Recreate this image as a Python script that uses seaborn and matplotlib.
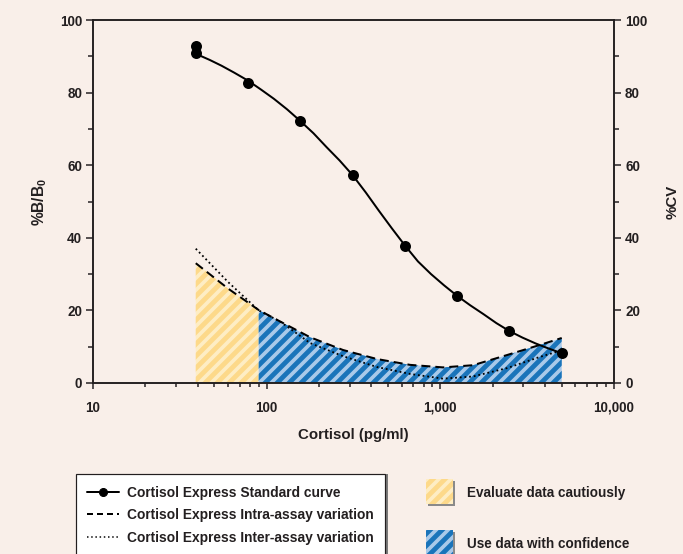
import numpy as np
import pandas as pd
import matplotlib
matplotlib.use("Agg")
import matplotlib.pyplot as plt
import matplotlib.ticker as mticker
from matplotlib.lines import Line2D
from matplotlib.patches import Rectangle
import seaborn as sns

# --- data --------------------------------------------------------------------
# standard points (pg/ml -> %B/B0), the lowest standard was run twice
std_conc = [39.06, 39.06, 78.125, 156.25, 312.5, 625, 1250, 2500, 5000]
std_bb0 = [92.8, 90.9, 82.6, 72.2, 57.3, 37.7, 24.0, 14.3, 8.3]

# fitted standard curve, read at several concentrations
fit_conc = [39.06, 47, 55, 65, 78.1, 93, 110, 131, 156, 186, 221, 263, 312, 372,
            442, 526, 625, 743, 884, 1051, 1250, 1487, 1768, 2102, 2500, 2973,
            3536, 4204, 5000]
fit_bb0 = [90.7, 89.0, 87.4, 85.5, 83.3, 80.8, 78.3, 75.4, 72.2, 68.8, 65.0, 61.3,
           57.3, 52.5, 47.5, 42.6, 37.9, 33.5, 30.0, 26.9, 24.0, 21.4, 19.0, 16.5,
           14.3, 12.5, 10.9, 9.5, 8.2]

# precision profiles (%CV)
cv_conc = [39.06, 60, 90, 119, 178, 275, 432, 669, 1036, 1542, 2420, 3750, 5000]
intra_cv = [33.0, 26.0, 20.1, 17.0, 12.6, 9.1, 6.6, 5.0, 4.3, 4.9, 7.7, 10.5, 12.4]
inter_cv = [37.0, 27.8, 20.0, 17.0, 11.0, 7.4, 4.4, 2.5, 1.2, 1.8, 4.1, 7.2, 9.0]

cautious_limit = 90  # pg/ml, below this: evaluate data cautiously

x_ticks = [10, 100, 1000, 10000]

labels = ["Cortisol Express Standard curve",
          "Cortisol Express Intra-assay variation",
          "Cortisol Express Inter-assay variation"]
zone_labels = ["Evaluate data cautiously", "Use data with confidence"]

# --- style ---------------------------------------------------------------------
BG = "#f9efe9"
INK = "#231f20"
YEL_FACE, YEL_LINE = "#feedc4", "#fdd98a"
BLU_FACE, BLU_LINE = "#a9c9e9", "#1a74ba"

sns.set_style("ticks")
plt.rcParams["font.family"] = ["Liberation Sans", "DejaVu Sans"]
plt.rcParams["font.weight"] = "bold"
plt.rcParams["hatch.linewidth"] = 4.8
plt.rcParams["text.color"] = INK
plt.rcParams["axes.labelcolor"] = INK
plt.rcParams["axes.labelweight"] = "bold"

W, H = 683, 554
fig = plt.figure(figsize=(W / 72, H / 72), dpi=72, facecolor=BG)


def fx(px):
    return px / W


def fy(py):
    return 1 - py / H


ax = fig.add_axes([fx(93), fy(383), (614 - 93) / W, (383 - 20) / H])
ax2 = ax.twinx()
ax.set_zorder(ax2.get_zorder() + 1)
ax.patch.set_visible(False)
ax2.patch.set_facecolor(BG)

# --- CV zones + profiles (right axis) -----------------------------------------
cv = pd.DataFrame({"conc": cv_conc, "intra": intra_cv, "inter": inter_cv})
early = cv[cv.conc <= cautious_limit]
late = cv[cv.conc >= cautious_limit]
ax2.fill_between(early.conc, 0, early.intra, facecolor=YEL_FACE,
                 edgecolor=YEL_LINE, hatch="//", linewidth=0)
ax2.fill_between(late.conc, 0, late.intra, facecolor=BLU_FACE,
                 edgecolor=BLU_LINE, hatch="//", linewidth=0)
sns.lineplot(data=cv, x="conc", y="inter", ax=ax2, color="black",
             linewidth=1.8, linestyle=(0, (1, 1.6)), legend=False)
sns.lineplot(data=cv, x="conc", y="intra", ax=ax2, color="black",
             linewidth=2, linestyle=(0, (4.5, 2.5)), legend=False)

# --- standard curve (left axis) -----------------------------------------------
sns.lineplot(x=fit_conc, y=fit_bb0, ax=ax, color="black", linewidth=2, legend=False)
sns.scatterplot(x=std_conc, y=std_bb0, ax=ax, color="black", s=121,
                linewidth=0, zorder=3, legend=False)

# --- axes ------------------------------------------------------------------------
ax.set_xscale("log")
ax.set_xlim(10, 10000)
ax.set_xticks(x_ticks)
ax.xaxis.set_major_formatter(mticker.FuncFormatter(lambda v, p: f"{v:,.0f}"))
ax.xaxis.set_minor_formatter(mticker.NullFormatter())
for a in (ax, ax2):
    a.set_ylim(0, 100)
    a.yaxis.set_major_locator(mticker.MultipleLocator(20))
    a.yaxis.set_minor_locator(mticker.MultipleLocator(10))
    a.tick_params(which="major", length=7, width=1.5, direction="out",
                  colors=INK, labelsize=13.5)
    a.tick_params(which="minor", length=5, width=1.5, direction="out", colors=INK)
    for s in a.spines.values():
        s.set_linewidth(1.6)
        s.set_color(INK)
    a.set_xlabel("")
ax.tick_params(axis="x", which="major", length=6, pad=12)
ax.tick_params(axis="x", which="minor", length=4)
ax2.tick_params(axis="y", pad=4)
ax.tick_params(axis="y", pad=4)

ax.set_xlabel("Cortisol (pg/ml)", fontsize=15, labelpad=13)
ax.set_ylabel("%B/B$\\mathregular{_0}$", fontsize=15.5, labelpad=11)
ax2.set_ylabel("%CV", fontsize=15, labelpad=18)

# --- legend box (left) -------------------------------------------------------
fig.add_artist(Rectangle((fx(79), fy(563)), (385 - 76) / W, (563 - 474) / H,
                         transform=fig.transFigure, facecolor="#7a7a7a",
                         edgecolor="none"))
fig.add_artist(Rectangle((fx(76), fy(560)), (385 - 76) / W, (560 - 474) / H,
                         transform=fig.transFigure, facecolor="white",
                         edgecolor=INK, linewidth=1.2))
handles = [
    Line2D([], [], color="black", lw=2, marker="o", markersize=8),
    Line2D([], [], color="black", lw=2, linestyle=(0, (3, 2))),
    Line2D([], [], color="black", lw=1.5, linestyle=(0, (1, 1.8))),
]
fig.legend(handles, labels, loc="upper left", bbox_to_anchor=(fx(87), fy(486)),
           frameon=False, fontsize=13.8, handlelength=2.35, handletextpad=0.55,
           labelspacing=0.6, borderpad=0, borderaxespad=0)

# --- zone swatches (right) ---------------------------------------------------
for top, face, line, text in [(479, YEL_FACE, YEL_LINE, zone_labels[0]),
                              (530, BLU_FACE, BLU_LINE, zone_labels[1])]:
    fig.add_artist(Rectangle((fx(428), fy(top + 27)), 27 / W, 25 / H,
                             transform=fig.transFigure, facecolor="#8a8a8a",
                             edgecolor="none"))
    fig.add_artist(Rectangle((fx(426), fy(top + 25)), 27 / W, 25 / H,
                             transform=fig.transFigure, facecolor=face,
                             edgecolor=line, hatch="//", linewidth=0))
    fig.text(fx(467), fy(top + 14), text, fontsize=13.5, va="center", ha="left")

fig.savefig("out.png", dpi=72, facecolor=BG)
